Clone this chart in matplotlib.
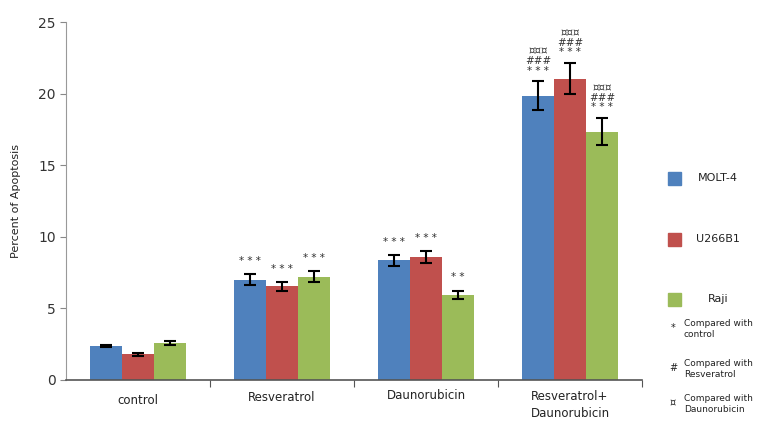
import numpy as np
import matplotlib.pyplot as plt

# data
groups = ['control', 'Resveratrol', 'Daunorubicin', 'Resveratrol+\nDaunorubicin']
cells = ['MOLT-4', 'U266B1', 'Raji']
colors = ['#4F81BD', '#C0504D', '#9BBB59']

molt4 = [2.37, 7.0, 8.35, 19.85]
u266b1 = [1.8, 6.55, 8.6, 21.05]
raji = [2.6, 7.2, 5.95, 17.35]

molt4_err = [0.1, 0.4, 0.38, 1.0]
u266b1_err = [0.1, 0.3, 0.4, 1.1]
raji_err = [0.15, 0.38, 0.3, 0.95]

# significance marks per group (list per cell line)
marks = [
    ['', '', ''],
    ['* * *', '* * *', '* * *'],
    ['* * *', '* * *', '* *'],
    ['¤¤¤\n###\n* * *', '¤¤¤\n###\n* * *', '¤¤¤\n###\n* * *'],
]

values = [molt4, u266b1, raji]
errors = [molt4_err, u266b1_err, raji_err]

fig = plt.figure(figsize=(7.62, 4.21), dpi=100)
ax = fig.add_axes([0.0866, 0.0974, 0.7559, 0.8503])

x = np.arange(len(groups))
w = 0.222
for i in range(3):
    pos = x + (i - 1) * w
    ax.bar(pos, values[i], w, color=colors[i], label=cells[i])
    ax.errorbar(pos, values[i], yerr=errors[i], fmt='none', ecolor='black',
                elinewidth=1.5, capsize=4, capthick=1.5)
    for j in range(len(groups)):
        txt = marks[j][i]
        if txt:
            top = values[i][j] + errors[i][j]
            off = 6 if j < 3 else 4
            ax.annotate(txt, (pos[j], top), xytext=(0, off), textcoords='offset points',
                        ha='center', va='bottom', fontsize=7.5, linespacing=0.95,
                        color='#333333')

ax.set_xlim(-0.5, 3.5)
ax.set_ylim(0, 25)
ax.set_yticks([0, 5, 10, 15, 20, 25])
ax.tick_params(axis='y', labelsize=10, labelcolor='#333333', color='#888888', length=4)
ax.set_xticks([0.5, 1.5, 2.5, 3.5])
ax.set_xticklabels([])
ax.tick_params(axis='x', color='#555555', length=5, direction='out')
label_y = [-1.4, -1.2, -1.05, -1.75]
for j, g in enumerate(groups):
    ax.text(x[j], label_y[j], g, ha='center', va='center', fontsize=8.5, color='#222222',
            linespacing=1.45)

ax.spines['top'].set_visible(False)
ax.spines['right'].set_visible(False)
ax.spines['left'].set_color('#999999')
ax.spines['bottom'].set_color('#555555')
ax.spines['bottom'].set_linewidth(1.2)
ax.set_ylabel('Percent of Apoptosis', fontsize=8, color='#222222', labelpad=12)

# legend drawn as figure text
sq_y = [178, 239, 299]
for i in range(3):
    fig.patches.append(plt.Rectangle((668 / 762, 1 - (sq_y[i] + 7) / 421), 13 / 762, 13 / 421,
                                     transform=fig.transFigure, color=colors[i]))
    fig.text(718 / 762, 1 - sq_y[i] / 421, cells[i], ha='center', va='center',
             fontsize=8, color='#222222')

notes = [('*', 'Compared with\ncontrol', 329),
         ('#', 'Compared with\nResveratrol', 369),
         ('¤', 'Compared with\nDaunorubicin', 404)]
for sym, txt, yy in notes:
    fig.text(673 / 762, 1 - (yy - 1) / 421, sym, ha='center', va='center', fontsize=7,
             color='#222222')
    fig.text(684 / 762, 1 - yy / 421, txt, ha='left', va='center', fontsize=6.5,
             color='#222222', linespacing=1.3)

fig.savefig('out.png', dpi=100, facecolor='white')
